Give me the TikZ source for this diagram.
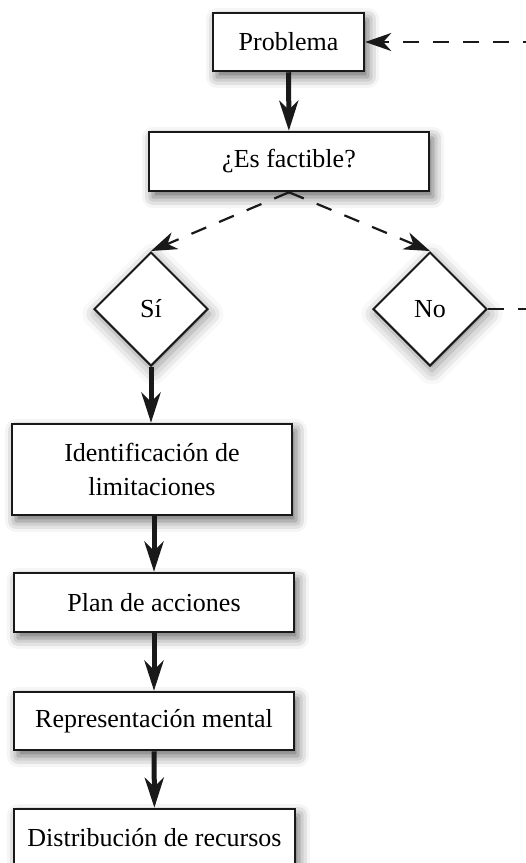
\documentclass[tikz,border=0pt]{standalone}
\usepackage{fontspec}
\setmainfont{Liberation Serif}
\usetikzlibrary{shapes.geometric,arrows.meta,shadows.blur}
\begin{document}
\begin{tikzpicture}[x=1pt,y=-1pt,
  boxstyle/.style={draw=black!90,line width=2.5pt,fill=white,inner sep=0pt,
    font=\fontsize{26}{34}\selectfont,align=center,
    blur shadow={shadow xshift=4pt,shadow yshift=-6pt,shadow blur radius=11pt,shadow opacity=60}},
  diastyle/.style={diamond,aspect=1,draw=black!90,line width=2pt,fill=white,inner sep=0pt,
    minimum width=114pt,minimum height=114pt,font=\fontsize{26}{34}\selectfont,
    blur shadow={shadow xshift=2pt,shadow yshift=-5pt,shadow blur radius=14pt,shadow opacity=45}},
  solidarrow/.style={line width=5pt,black!90,-{Stealth[length=30pt,width=19pt,inset=9pt]}},
  dasharrow/.style={line width=2.2pt,black!90,dash pattern=on 16pt off 14pt,
    -{Stealth[length=26pt,width=18pt,inset=8pt]}}]
\clip (0,0) rectangle (526,863);
\path[use as bounding box] (0,0) rectangle (526,863);
\node[boxstyle,minimum width=151pt,minimum height=58pt] (prob) at (288.5,42) {Problema};
\node[boxstyle,minimum width=280pt,minimum height=59pt] (fact) at (289,161.5) {¿Es factible?};
\node[diastyle] (si) at (151,309) {Sí};
\node[diastyle] (no) at (430,309) {No};
\node[boxstyle,minimum width=280pt,minimum height=91pt] (ident) at (152,469.5) {Identificación de\\limitaciones};
\node[boxstyle,minimum width=280pt,minimum height=59pt] (plan) at (154,602.5) {Plan de acciones};
\node[boxstyle,minimum width=280pt,minimum height=58pt] (rep) at (154,721) {Representación mental};
\node[boxstyle,minimum width=281pt,minimum height=58pt] (dist) at (154.5,838) {Distribución de recursos};
\coordinate (r1) at (545,309);
\coordinate (r2) at (545,42);
\draw[solidarrow] (prob) -- (fact);
\draw[dasharrow] (fact.south) -- (si.north);
\draw[dasharrow] (fact.south) -- (no.north);
\draw[solidarrow] (si.south) -- (si.south |- ident.north);
\draw[solidarrow] (ident.south -| plan.north) -- (plan.north);
\draw[solidarrow] (plan) -- (rep);
\draw[solidarrow] (rep) -- (dist);
\draw[dasharrow] (no.east) -- (r1) -- (r2) -- (prob.east);
\end{tikzpicture}
\end{document}
